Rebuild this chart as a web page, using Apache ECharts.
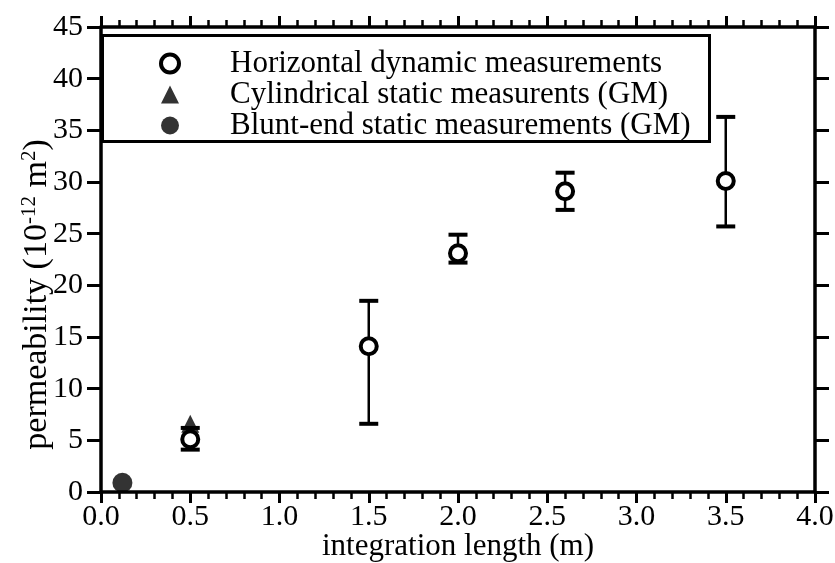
<!DOCTYPE html>
<html><head><meta charset="utf-8">
<script src="https://cdn.jsdelivr.net/npm/echarts@6/dist/echarts.min.js"></script>
<style>html,body{margin:0;padding:0;background:#fff}#c{width:835px;height:563px}</style>
</head><body><div id="c"></div>
<script>
const xTicks = ['0.0','0.5','1.0','1.5','2.0','2.5','3.0','3.5','4.0'];
const yTicks = [0,5,10,15,20,25,30,35,40,45];
const seriesNames = ['Horizontal dynamic measurements','Cylindrical static measurents (GM)','Blunt-end static measurements (GM)'];
const dynX = [0.5, 1.5, 2.0, 2.6, 3.5];
const dynY = [5.1, 14.1, 23.1, 29.1, 30.1];
const dynLow = [4.1, 6.6, 22.2, 27.3, 25.7];
const dynHigh = [6.2, 18.5, 24.9, 30.9, 36.3];
const cylX = [0.5];
const cylY = [6.6];
const bluntX = [0.12];
const bluntY = [0.9];

const FONT = 'Liberation Serif';
const chart = echarts.init(document.getElementById('c'), null, {renderer:'canvas'});
const axLine = {show:true, onZero:false, lineStyle:{color:'#000', width:3.5}};
const xCommon = {type:'value', min:0, max:4, interval:0.5,
  axisLine:axLine, splitLine:{show:false},
  axisTick:{show:true, inside:false, length:11, lineStyle:{color:'#000', width:3}},
  minorTick:{show:true, splitNumber:5, length:7, lineStyle:{color:'#000', width:2.5}}};
const yCommon = {type:'value', min:0, max:45, interval:5,
  axisLine:axLine, splitLine:{show:false},
  axisTick:{show:true, inside:false, length:14, lineStyle:{color:'#000', width:3}}};

const errData = dynX.map((x,i)=>[x, dynLow[i], dynHigh[i]]);

chart.setOption({
  animation:false,
  backgroundColor:'#fff',
  textStyle:{fontFamily:FONT},
  grid:{left:101, right:20, top:27, bottom:71, containLabel:false, outerBoundsMode:'none'},
  xAxis:[
    Object.assign({}, xCommon, {position:'bottom', name:'integration length (m)', nameLocation:'middle', nameGap:39,
      nameMoveOverlap:false,
      nameTextStyle:{fontFamily:FONT, fontSize:31, color:'#000', lineHeight:32},
      axisLabel:{fontFamily:FONT, fontSize:30, color:'#000', margin:10, lineHeight:30, formatter:(v)=>xTicks[Math.round(v/0.5)]}}),
    Object.assign({}, xCommon, {position:'top', axisLabel:{show:false}})
  ],
  yAxis:[
    Object.assign({}, yCommon, {position:'left',
      name:'{n|permeability (10}{s|-12}{n| m}{s|2}{n|)}', nameLocation:'middle', nameGap:46,
      nameMoveOverlap:false,
      nameTextStyle:{fontFamily:FONT, fontSize:34, color:'#000', padding:[0,70,0,0],
        rich:{n:{fontFamily:FONT, fontSize:34, color:'#000', lineHeight:36}, s:{fontFamily:FONT, fontSize:21, color:'#000', verticalAlign:'top'}}},
      axisLabel:{fontFamily:FONT, fontSize:30, color:'#000', margin:18, formatter:(v)=>String(yTicks[Math.round(v/5)])}}),
    Object.assign({}, yCommon, {position:'right', axisLabel:{show:false}})
  ],
  legend:{
    show:true, orient:'vertical', left:154, top:43, itemGap:0, itemWidth:18, itemHeight:18,
    textStyle:{fontFamily:FONT, fontSize:31, color:'#000', padding:[0,0,0,46], lineHeight:25},
    data:[
      {name:seriesNames[0], icon:'circle', itemStyle:{color:'#fff', borderColor:'#000', borderWidth:4}},
      {name:seriesNames[1], icon:'triangle', itemStyle:{color:'#000'}},
      {name:seriesNames[2], icon:'circle', itemStyle:{color:'#000'}}
    ]
  },
  graphic:[{type:'rect', left:101, top:34, shape:{width:607, height:106}, style:{fill:'#fff', stroke:'#000', lineWidth:3}, z:-1}],
  series:[
    {type:'custom', name:'err', silent:true, data:errData, z:3,
      renderItem:(params, api)=>{
        const x = api.value(0);
        const lo = api.coord([x, api.value(1)]);
        const hi = api.coord([x, api.value(2)]);
        const w = 9.5;
        return {type:'group', children:[
          {type:'line', shape:{x1:lo[0], y1:lo[1], x2:hi[0], y2:hi[1]}, style:{stroke:'#000', lineWidth:2.5}},
          {type:'line', shape:{x1:lo[0]-w, y1:lo[1], x2:lo[0]+w, y2:lo[1]}, style:{stroke:'#000', lineWidth:4}},
          {type:'line', shape:{x1:hi[0]-w, y1:hi[1], x2:hi[0]+w, y2:hi[1]}, style:{stroke:'#000', lineWidth:4}}
        ]};
      }},
    {type:'scatter', name:seriesNames[1], data:cylX.map((x,i)=>[x, cylY[i]]), symbol:'triangle', symbolSize:18,
      itemStyle:{color:'#000'}, z:4},
    {type:'scatter', name:seriesNames[0], data:dynX.map((x,i)=>[x, dynY[i]]), symbol:'circle', symbolSize:16,
      itemStyle:{color:'#fff', borderColor:'#000', borderWidth:4, opacity:1}, z:5},
    {type:'scatter', name:seriesNames[2], data:bluntX.map((x,i)=>[x, bluntY[i]]), symbol:'circle', symbolSize:20,
      itemStyle:{color:'#000'}, z:5}
  ]
});
</script></body></html>
